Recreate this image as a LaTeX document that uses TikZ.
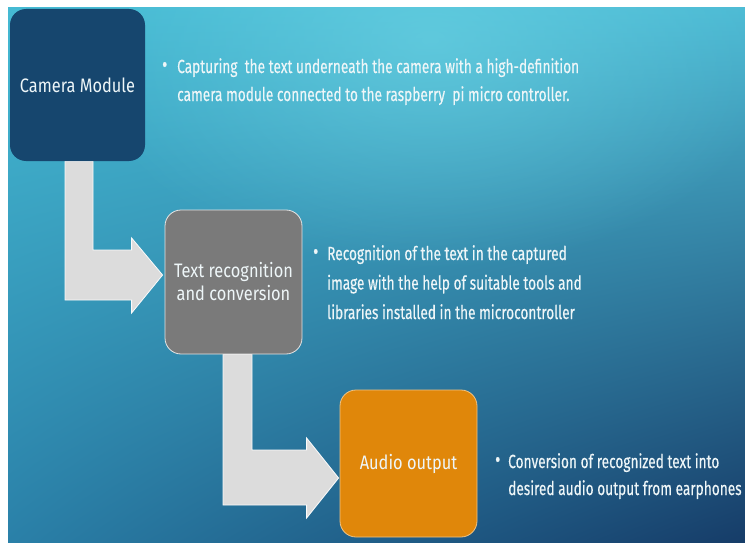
\documentclass[tikz,border=0pt]{standalone}
\usepackage{fontspec}
\setmainfont{Fira Sans}
\newfontfamily\boxfont[FakeStretch=0.84]{Fira Sans}
\newfontfamily\bulfont[FakeStretch=0.72,FakeBold=0.3]{Fira Sans}
\usetikzlibrary{calc,fadings,shadings}
\pgfdeclarelayer{back}
\pgfdeclarelayer{arrows}
\pgfsetlayers{back,arrows,main}
\definecolor{navy}{HTML}{16466E}
\definecolor{greybox}{HTML}{7A7A7A}
\definecolor{orangebox}{HTML}{E0870A}
\definecolor{arrowgrey}{HTML}{DCDCDC}
\definecolor{txt}{HTML}{EEF6F8}
\definecolor{bgUL}{HTML}{45BAD3}
\definecolor{bgUR}{HTML}{4CBAD4}
\definecolor{bgLL}{HTML}{2A80A8}
\definecolor{bgLR}{HTML}{163C68}
\definecolor{glowc}{HTML}{6FD6E6}
\tikzfading[name=glow, inner color=transparent!40, outer color=transparent!100]
\tikzset{
  stepbox/.style={rounded corners=16pt, minimum width=#1, inner sep=0pt, text=txt, font=\boxfont\fontsize{19.5}{23}\selectfont, align=center},
  blockarrow/.style={fill=arrowgrey, draw=white!90!arrowgrey, line width=0.8pt},
  bul/.style={anchor=north west, inner sep=0pt, text=txt, align=left},
}
\newcommand\bdot{\raisebox{1pt}{\fontsize{22}{22}\selectfont•}}
\begin{document}
\begin{tikzpicture}[x=1pt,y=-1pt]
\useasboundingbox (0,0) rectangle (745,543);
\begin{pgfonlayer}{back}
\fill[white] (0,0) rectangle (745,543);
\shade[upper left=bgUL, upper right=bgUR, lower left=bgLL, lower right=bgLR] (8,7) rectangle (745,543);
\fill[glowc, path fading=glow] (430,40) ellipse (360 and 230);
\fill[white] (0,0) rectangle (745,7);
\end{pgfonlayer}
% nodes
\node[stepbox=135pt, minimum height=152pt, fill=navy] (cam) at (77.5,85) {Camera Module};
\node[stepbox=137pt, minimum height=144pt, fill=greybox, draw=white!80!greybox, line width=0.8pt] (rec) at (233.5,282) {Text recognition\\and conversion};
\node[stepbox=137pt, minimum height=147pt, fill=orangebox, draw=orangebox!50!white, line width=0.8pt] (aud) at (408.5,463.5) {Audio output};
% arrows
\begin{pgfonlayer}{arrows}
\path[blockarrow] let \p1=(cam.south), \p2=(rec.west) in
  (\x1-12.5pt,\y1) -- (\x1+15.5pt,\y1) -- (\x1+15.5pt,\y2+32pt) -- (\x2-33pt,\y2+32pt)
  -- (\x2-33pt,\y2+44pt) -- (\x2-2pt,\y2+7pt) -- (\x2-33pt,\y2-31pt) -- (\x2-33pt,\y2-18pt)
  -- (\x1-12.5pt,\y2-18pt) -- cycle;
\path[blockarrow] let \p1=(rec.south), \p2=(aud.west) in
  (\x1-10.5pt,\y1) -- (\x1+18.5pt,\y1) -- (\x1+18.5pt,\y2+13.5pt) -- (\x2-33pt,\y2+13.5pt)
  -- (\x2-33pt,\y2+25.5pt) -- (\x2-1pt,\y2-14.5pt) -- (\x2-33pt,\y2-54.5pt) -- (\x2-33pt,\y2-41.5pt)
  -- (\x1-10.5pt,\y2-41.5pt) -- cycle;
\end{pgfonlayer}
% bullet texts
\node[bul, font=\bulfont\fontsize{19}{28}\selectfont] (t1) at (162,58)
  {\makebox[15pt][l]{\bdot}Capturing\ \ the text underneath the camera with a high-definition\\
   \hspace*{15pt}camera module connected to the raspberry\ \ pi micro controller.};
\node[bul, font=\bulfont\fontsize{19}{29.5}\selectfont] (t2) at (313,245)
  {\makebox[14pt][l]{\bdot}Recognition of the text in the captured\\
   \hspace*{14pt}image with the help of suitable tools and\\
   \hspace*{14pt}libraries installed in the microcontroller};
\node[bul, font=\bulfont\fontsize{19}{27}\selectfont] (t3) at (495,453)
  {\makebox[13pt][l]{\bdot}Conversion of recognized text into\\
   \hspace*{13pt}desired audio output from earphones};
\end{tikzpicture}
\end{document}
